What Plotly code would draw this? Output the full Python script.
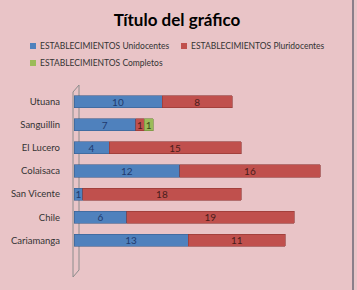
import plotly.graph_objects as go

categories = ["Utuana", "Sanguillin", "El Lucero", "Colaisaca", "San Vicente", "Chile", "Cariamanga"]
unidocentes = [10, 7, 4, 12, 1, 6, 13]
pluridocentes = [8, 1, 15, 16, 18, 19, 11]
completos = [None, 1, None, None, None, None, None]
series_names = ["ESTABLECIMIENTOS Unidocentes", "ESTABLECIMIENTOS Pluridocentes", "ESTABLECIMIENTOS Completos"]
colors = ["#4f81bd", "#c0504d", "#9bbb59"]
line_colors = ["#3a5f8e", "#8f3532", "#6f8a3c"]
text_colors = ["#1f3a6e", "#4a1c1a", "#3b4a1c"]

FONT = "Lato"
fig = go.Figure()
for name, vals, col, line, tcol in zip(series_names, [unidocentes, pluridocentes, completos],
                                       colors, line_colors, text_colors):
    fig.add_trace(go.Bar(
        y=categories, x=vals, name=name, orientation="h",
        marker=dict(color=col, line=dict(color=line, width=0.6)),
        text=[str(v) if v is not None else "" for v in vals],
        textposition="inside", insidetextanchor="middle", textangle=0,
        textfont=dict(family=FONT, size=10, color=tcol),
        constraintext="none", showlegend=False,
    ))

L, W, T, H = 74, 264, 90, 162
def px(x): return (x - L) / W
def py(y): return (T + H - y) / H

shapes = []
gray = "#8c8c8c"
for (x0, y0, x1, y1) in [(73, 92, 73, 277), (79, 85, 79, 270), (73, 92, 79, 85), (73, 277, 79, 270)]:
    shapes.append(dict(type="line", xref="paper", yref="paper", x0=px(x0), y0=py(y0), x1=px(x1), y1=py(y1),
                       line=dict(color=gray, width=1), layer="below"))
shapes.append(dict(type="line", xref="paper", yref="paper", x0=px(353), y0=py(0), x1=px(353), y1=py(290),
                   line=dict(color="#8a7f8a", width=2), layer="above"))

# legend (manual, to match the compact Office-style layout)
annotations = []
legend_pos = [(30, 46), (181, 46), (30, 63)]
for name, col, (lx, ly) in zip(series_names, colors, legend_pos):
    shapes.append(dict(type="rect", xref="paper", yref="paper", x0=px(lx), x1=px(lx + 6),
                       y0=py(ly + 3), y1=py(ly - 3), fillcolor=col, line=dict(width=0)))
    annotations.append(dict(text=name, xref="paper", yref="paper", x=px(lx + 8), y=py(ly),
                            xanchor="left", yanchor="middle", showarrow=False,
                            font=dict(family=FONT, size=8.5, color="#333")))

fig.update_layout(
    width=357, height=290,
    margin=dict(l=L, r=357 - L - W, t=T, b=290 - T - H),
    paper_bgcolor="#e9c4c7", plot_bgcolor="rgba(0,0,0,0)",
    barmode="stack", bargap=0.48,
    title=dict(text="<b>Título del gráfico</b>", x=177 / 357, xref="container", xanchor="center",
               y=1 - 20 / 290, yref="container", yanchor="middle",
               font=dict(family=FONT, size=17, color="#000")),
    uniformtext=dict(minsize=10, mode="show"),
    shapes=shapes, annotations=annotations,
    showlegend=False,
)
fig.update_xaxes(range=[0, 30], showgrid=False, showticklabels=False, zeroline=False, showline=False)
fig.update_yaxes(autorange="reversed", showgrid=False, showline=False, ticks="",
                 ticklabelstandoff=13, tickfont=dict(family=FONT, size=9.5, color="#333"))
fig.write_html("out.html")
